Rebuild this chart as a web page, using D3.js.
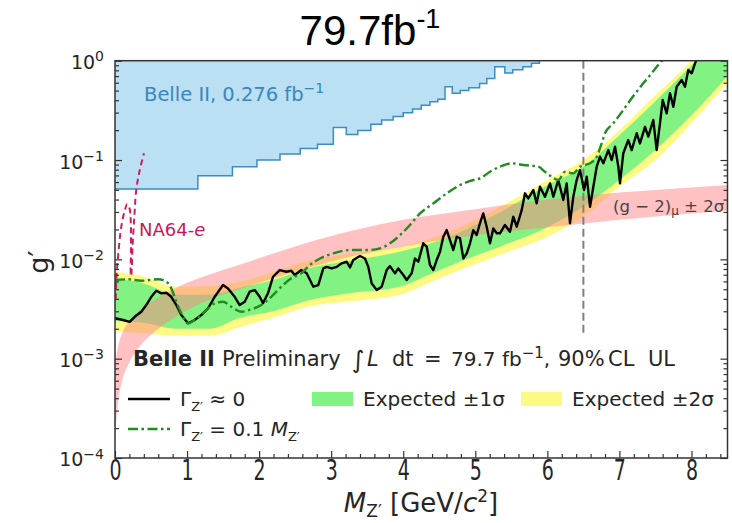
<!DOCTYPE html>
<html>
<head>
<meta charset="utf-8">
<script src="https://cdn.jsdelivr.net/npm/d3@7"></script>
<style>
  body { margin: 0; background: #fff; }
  text { font-family: "DejaVu Sans", sans-serif; fill: #262626; }
</style>
</head>
<body>
<svg id="chart" width="732" height="523"></svg>
<script>
//
// Data
//

// Belle II 0.276 fb^-1 excluded region (step edges)
var belleMass = [0, 1.15, 1.63, 1.97, 2.29, 2.57, 2.81, 3.03, 3.21, 3.37, 3.55, 3.70, 3.86, 4.00, 4.13, 4.25, 4.37, 4.48, 4.58, 4.68, 4.79, 4.91, 5.06, 5.16, 5.27, 5.41, 5.52, 5.66, 5.78, 5.89]
var belleG = [0.051, 0.0695, 0.0857, 0.100, 0.115, 0.131, 0.144, 0.212, 0.181, 0.198, 0.229, 0.253, 0.275, 0.300, 0.326, 0.355, 0.387, 0.410, 0.548, 0.470, 0.500, 0.535, 0.590, 0.660, 0.870, 0.750, 0.810, 0.870, 0.940, 1.0]

// expected limit bands
var expMass = [0, 0.4, 0.85, 1.3, 1.75, 2.2, 2.65, 3.3, 3.95, 4.45, 4.9, 5.35, 6.0, 6.5, 7.0, 7.5, 8.0, 8.5]
var exp2Lo = [0.0019, 0.0018, 0.0017, 0.0017, 0.0021, 0.0026, 0.0033, 0.0038, 0.0044, 0.0062, 0.0084, 0.0112, 0.0169, 0.027, 0.054, 0.10, 0.236, 0.6]
var exp1Lo = [0.0024, 0.0023, 0.0020, 0.0020, 0.0026, 0.0030, 0.0038, 0.0046, 0.0053, 0.0075, 0.0102, 0.0135, 0.021, 0.034, 0.063, 0.126, 0.28, 0.7]
var exp1Hi = [0.0064, 0.0057, 0.0044, 0.0044, 0.0052, 0.0062, 0.0080, 0.0098, 0.0119, 0.0150, 0.0205, 0.030, 0.056, 0.086, 0.178, 0.39, 0.9, 2.2]
var exp2Hi = [0.0075, 0.0067, 0.0053, 0.0054, 0.0060, 0.0075, 0.0095, 0.0115, 0.0134, 0.0169, 0.023, 0.034, 0.063, 0.10, 0.20, 0.45, 1.0, 2.6]

// (g-2)_mu +-2 sigma band
var gm2Mass = [0, 0.05, 0.1, 0.2, 0.35, 0.6, 0.9, 1.3, 1.8, 2.5, 3.3, 4.0, 5.0, 6.0, 7.0, 8.0, 8.5]
var gm2Lo = [0.00017, 0.0004, 0.0006, 0.00092, 0.00135, 0.0020, 0.0028, 0.0039, 0.0052, 0.0075, 0.0108, 0.0135, 0.0175, 0.021, 0.025, 0.029, 0.031]
var gm2Hi = [0.0009, 0.0014, 0.0018, 0.0024, 0.0031, 0.0041, 0.0054, 0.0070, 0.0092, 0.0135, 0.0195, 0.025, 0.032, 0.040, 0.047, 0.053, 0.056]

// observed limit, Gamma_Z' ~ 0
var obsMass = [0, 0.111, 0.204, 0.273, 0.365, 0.434, 0.504, 0.573, 0.643, 0.712, 0.781, 0.851, 0.920, 1.013, 1.106, 1.198, 1.291, 1.384, 1.499, 1.568, 1.661, 1.730, 1.800, 1.869, 1.939, 2.008, 2.054, 2.123, 2.193, 2.286, 2.377, 2.447, 2.494, 2.585, 2.660, 2.752, 2.821, 2.891, 2.938, 3.007, 3.077, 3.146, 3.215, 3.261, 3.307, 3.400, 3.469, 3.515, 3.562, 3.632, 3.701, 3.770, 3.816, 3.886, 3.931, 4.001, 4.048, 4.117, 4.163, 4.209, 4.278, 4.326, 4.371, 4.417, 4.464, 4.510, 4.556, 4.603, 4.649, 4.695, 4.742, 4.788, 4.834, 4.881, 4.927, 4.972, 5.019, 5.065, 5.111, 5.158, 5.204, 5.250, 5.297, 5.343, 5.412, 5.481, 5.527, 5.575, 5.644, 5.690, 5.735, 5.805, 5.852, 5.898, 5.967, 6.037, 6.083, 6.152, 6.221, 6.268, 6.314, 6.360, 6.407, 6.453, 6.509, 6.546, 6.592, 6.638, 6.685, 6.731, 6.777, 6.846, 6.893, 6.939, 6.985, 7.008, 7.054, 7.123, 7.170, 7.240, 7.285, 7.355, 7.401, 7.470, 7.517, 7.563, 7.601, 7.656, 7.702, 7.748, 7.795, 7.864, 7.910, 7.956, 8.003, 8.049, 8.10]
var obsG = [0.00255, 0.00245, 0.00235, 0.00264, 0.00297, 0.00347, 0.0042, 0.00483, 0.00455, 0.00461, 0.0042, 0.00347, 0.00275, 0.00227, 0.00245, 0.00275, 0.00321, 0.0042, 0.00551, 0.0051, 0.0042, 0.00347, 0.00374, 0.00472, 0.00491, 0.0042, 0.00361, 0.00455, 0.00668, 0.0078, 0.0075, 0.00768, 0.00695, 0.0078, 0.00723, 0.0053, 0.00551, 0.0081, 0.0084, 0.0081, 0.0084, 0.00912, 0.00946, 0.0083, 0.00984, 0.0108, 0.0102, 0.0084, 0.00573, 0.00491, 0.0053, 0.0078, 0.00855, 0.00723, 0.0081, 0.00695, 0.0062, 0.00723, 0.0102, 0.00946, 0.0145, 0.0134, 0.00877, 0.0078, 0.00984, 0.0119, 0.0169, 0.0197, 0.0156, 0.0124, 0.0169, 0.0163, 0.0102, 0.0115, 0.0145, 0.0197, 0.0176, 0.0231, 0.029, 0.0213, 0.0145, 0.0205, 0.0183, 0.0183, 0.0222, 0.019, 0.0269, 0.0213, 0.0313, 0.0462, 0.0411, 0.0499, 0.0366, 0.0538, 0.0427, 0.0582, 0.0427, 0.0629, 0.0396, 0.0582, 0.0231, 0.0427, 0.0629, 0.0793, 0.0499, 0.0679, 0.0339, 0.0538, 0.0857, 0.108, 0.0927, 0.126, 0.1, 0.136, 0.0857, 0.0582, 0.117, 0.159, 0.126, 0.186, 0.147, 0.216, 0.172, 0.253, 0.126, 0.234, 0.402, 0.295, 0.47, 0.344, 0.547, 0.64, 0.547, 0.806, 0.747, 0.94, 1.15]

// observed limit, Gamma_Z' = 0.1 M_Z'
var wideMass = [0, 0.180, 0.365, 0.597, 0.712, 0.781, 0.851, 0.920, 1.013, 1.106, 1.245, 1.384, 1.499, 1.614, 1.753, 1.891, 2.030, 2.169, 2.308, 2.447, 2.585, 2.706, 2.845, 3.029, 3.261, 3.493, 3.677, 3.816, 3.955, 4.094, 4.233, 4.417, 4.603, 4.788, 4.972, 5.065, 5.204, 5.343, 5.505, 5.666, 5.874, 5.967, 6.060, 6.152, 6.245, 6.360, 6.453, 6.592, 6.685, 6.754, 6.800, 6.915, 7.054, 7.170, 7.331, 7.448, 7.517, 7.587, 7.65]
var wideG = [0.0062, 0.0063, 0.00608, 0.0063, 0.00595, 0.0051, 0.00374, 0.00286, 0.00227, 0.00245, 0.00297, 0.00361, 0.00374, 0.00333, 0.00297, 0.00314, 0.00347, 0.0042, 0.0053, 0.00644, 0.00723, 0.00877, 0.0102, 0.0115, 0.0124, 0.0124, 0.0129, 0.0145, 0.0175, 0.0222, 0.029, 0.0366, 0.0462, 0.056, 0.0629, 0.0654, 0.0762, 0.0857, 0.0927, 0.0891, 0.0857, 0.0762, 0.0679, 0.0629, 0.0762, 0.0734, 0.0857, 0.0927, 0.108, 0.147, 0.186, 0.234, 0.319, 0.418, 0.592, 0.747, 0.87, 1.0, 1.15]

// NA64-e contour
var na64Mass = [0.010, 0.020, 0.042, 0.087, 0.135, 0.170, 0.200, 0.218, 0.222, 0.220, 0.226, 0.245, 0.270, 0.295, 0.343, 0.402]
var na64G = [0.0040, 0.0065, 0.0106, 0.0213, 0.0310, 0.0360, 0.0330, 0.0250, 0.0140, 0.0068, 0.0070, 0.0140, 0.0280, 0.0500, 0.0790, 0.1170]

// vertical marker
var cutMass = 6.5
var cutLow = 0.0018

// axis ticks
var xTicks = [0, 1, 2, 3, 4, 5, 6, 7, 8]
var yTicks = [1e-4, 1e-3, 1e-2, 1e-1, 1]

//
// Layout
//

var svg = d3.select('#chart')
var plotL = 115, plotR = 727.5, plotT = 60.7, plotB = 458

var x = d3.scaleLinear().domain([0, 8.5]).range([plotL, plotR])
var y = d3.scaleLog().domain([1e-4, 1]).range([plotB, plotT])

svg.append('defs').append('clipPath').attr('id', 'plotclip')
  .append('rect')
  .attr('x', plotL).attr('y', plotT)
  .attr('width', plotR - plotL).attr('height', plotB - plotT)

var plot = svg.append('g').attr('clip-path', 'url(#plotclip)')

function rows(ms, a, b) {
  return ms.map(function(m, i) { return { m: m, a: a[i], b: b ? b[i] : null } })
}

// Belle II 0.276 fb-1 region
var belle = rows(belleMass, belleG)
plot.append('path')
  .datum(belle)
  .attr('fill', '#bbdff3')
  .attr('d', d3.area().curve(d3.curveStepAfter)
    .x(function(d) { return x(d.m) })
    .y0(y(1) - 5)
    .y1(function(d) { return y(d.a) }))
plot.append('path')
  .datum(belle)
  .attr('fill', 'none')
  .attr('stroke', '#3b8cc4')
  .attr('stroke-width', 1.5)
  .attr('d', d3.line().curve(d3.curveStepAfter)
    .x(function(d) { return x(d.m) })
    .y(function(d) { return y(d.a) }))

function band(ms, lo, hi, color, opacity) {
  plot.append('path')
    .datum(rows(ms, lo, hi))
    .attr('fill', color)
    .attr('fill-opacity', opacity)
    .attr('d', d3.area().curve(d3.curveMonotoneX)
      .x(function(d) { return x(d.m) })
      .y0(function(d) { return y(d.a) })
      .y1(function(d) { return y(d.b) }))
}

band(expMass, exp2Lo, exp2Hi, '#fdfa84', 1)
band(expMass, exp1Lo, exp1Hi, '#82f282', 1)
band(gm2Mass, gm2Lo, gm2Hi, '#ff8484', 0.5)

// vertical dashed marker
plot.append('line')
  .attr('x1', x(cutMass)).attr('x2', x(cutMass))
  .attr('y1', y(1)).attr('y2', y(cutLow))
  .attr('stroke', '#808080')
  .attr('stroke-width', 2)
  .attr('stroke-dasharray', '8,4')

function curve(ms, gs, color, width, dash, c) {
  plot.append('path')
    .datum(rows(ms, gs))
    .attr('fill', 'none')
    .attr('stroke', color)
    .attr('stroke-width', width)
    .attr('stroke-dasharray', dash)
    .attr('stroke-linejoin', 'round')
    .attr('d', d3.line().curve(c)
      .x(function(d) { return x(d.m) })
      .y(function(d) { return y(d.a) }))
}

curve(obsMass, obsG, '#000', 2.4, null, d3.curveLinear)
curve(wideMass, wideG, '#228b22', 2.4, '10,3.5,2.5,3.5', d3.curveMonotoneX)
curve(na64Mass, na64G, '#d01c62', 2, '6,4', d3.curveCatmullRom)

//
// Axes
//

function styleAxis(g) {
  g.select('.domain').remove()
  g.selectAll('.tick line').attr('stroke', '#333').attr('stroke-width', 1.2)
}

var xMinor = d3.range(0, 8.5001, 0.2).filter(function(v) { return Math.abs(v - Math.round(v)) > 1e-6 })
var yMinor = []
yTicks.slice(0, -1).forEach(function(t) { d3.range(2, 10).forEach(function(k) { yMinor.push(t * k) }) })

svg.append('g').attr('transform', 'translate(0,' + plotB + ')')
  .call(d3.axisBottom(x).tickValues(xMinor).tickSize(-4).tickFormat(''))
  .call(styleAxis)

var gx = svg.append('g').attr('transform', 'translate(0,' + plotB + ')')
  .call(d3.axisBottom(x).tickValues(xTicks).tickSizeInner(-7).tickSizeOuter(0).tickPadding(2).tickFormat(d3.format('d')))
  .call(styleAxis)
// the x tick digits are drawn taller than wide in the source figure
gx.selectAll('.tick text')
  .attr('font-size', '19px')
  .attr('fill', '#262626')
  .attr('transform', 'scale(1,1.45)')

;[['left', d3.axisLeft], ['right', d3.axisRight]].forEach(function(p) {
  var pos = p[0] === 'left' ? plotL : plotR
  svg.append('g').attr('transform', 'translate(' + pos + ',0)')
    .call(p[1](y).tickValues(yMinor).tickSize(-4).tickFormat(''))
    .call(styleAxis)
  var g = svg.append('g').attr('transform', 'translate(' + pos + ',0)')
    .call(p[1](y).tickValues(yTicks).tickSizeInner(-7).tickSizeOuter(0).tickPadding(11).tickFormat(''))
    .call(styleAxis)
  if (p[0] === 'left') {
    g.selectAll('.tick text')
      .attr('font-size', '19px')
      .attr('dy', '0.42em')
      .each(function(d) {
        var t = d3.select(this)
        t.append('tspan').text('10')
        t.append('tspan').attr('dy', '-0.55em').attr('font-size', '14px')
          .text(d === 1 ? '0' : '\u2212' + Math.round(-Math.log10(d)))
      })
  }
})

// frame
svg.append('rect')
  .attr('x', plotL).attr('y', plotT)
  .attr('width', plotR - plotL).attr('height', plotB - plotT)
  .attr('fill', 'none').attr('stroke', '#333').attr('stroke-width', 1.5)

//
// Labels
//

svg.append('text').attr('x', 370).attr('y', 45)
  .attr('text-anchor', 'middle')
  .style('font-family', '"Liberation Sans", Arial, sans-serif')
  .attr('font-size', '42px').style('fill', '#000')
  .call(function(t) {
    t.append('tspan').text('79.7fb')
    t.append('tspan').attr('dy', '-17').attr('font-size', '27px').text('-1')
  })

svg.append('text')
  .attr('transform', 'translate(48,262) rotate(-90)')
  .attr('text-anchor', 'middle')
  .attr('font-size', '27px')
  .text('g\u2032')

svg.append('text').attr('x', 421).attr('y', 512)
  .attr('text-anchor', 'middle')
  .attr('font-size', '26px')
  .call(function(t) {
    t.append('tspan').attr('font-style', 'italic').text('M')
    t.append('tspan').attr('dy', 5).attr('font-size', '17px').text('Z\u2032')
    t.append('tspan').attr('dy', -5).text(' [GeV/')
    t.append('tspan').attr('font-style', 'italic').text('c')
    t.append('tspan').attr('dy', -10).attr('font-size', '17px').text('2')
    t.append('tspan').attr('dy', 10).text(']')
  })

// annotations
svg.append('text').attr('x', 144).attr('y', 101)
  .attr('font-size', '19.5px').style('fill', '#3a86bf')
  .call(function(t) {
    t.append('tspan').text('Belle II, 0.276 fb')
    t.append('tspan').attr('dy', -8).attr('font-size', '14px').text('\u22121')
  })

svg.append('text').attr('x', 139).attr('y', 236)
  .attr('font-size', '18px').style('fill', '#c8185a')
  .call(function(t) {
    t.append('tspan').text('NA64-')
    t.append('tspan').attr('font-style', 'italic').text('e')
  })

svg.append('text').attr('x', 613).attr('y', 212)
  .attr('font-size', '16.5px').style('fill', '#444')
  .call(function(t) {
    t.append('tspan').text('(g \u2212 2)')
    t.append('tspan').attr('dy', 3).attr('font-size', '12px').text('\u03bc')
    t.append('tspan').attr('dy', -3).text(' \u00b1 2\u03c3')
  })

// legend header, pieces placed as in the source
var head = svg.append('g').attr('font-size', '21px')
head.append('text').attr('x', 133).attr('y', 366).attr('font-weight', 'bold').text('Belle II')
head.append('text').attr('x', 222).attr('y', 366).text('Preliminary')
head.append('text').attr('x', 352).attr('y', 368).attr('font-size', '24px').text('\u222b')
head.append('text').attr('x', 367).attr('y', 366).attr('font-style', 'italic').text('L')
head.append('text').attr('x', 392).attr('y', 366).text('dt')
head.append('text').attr('x', 424).attr('y', 366).text('=')
head.append('text').attr('x', 451).attr('y', 366).attr('font-size', '20px')
  .call(function(t) {
    t.append('tspan').text('79.7 fb')
    t.append('tspan').attr('dy', -8).attr('font-size', '15px').text('\u22121')
    t.append('tspan').attr('dy', 8).text(',')
  })
head.append('text').attr('x', 558).attr('y', 366).text('90%')
head.append('text').attr('x', 608).attr('y', 366).text('CL')
head.append('text').attr('x', 648).attr('y', 366).text('UL')

// legend entries
var legend = svg.append('g')
legend.append('line').attr('x1', 128).attr('x2', 170).attr('y1', 399).attr('y2', 399)
  .attr('stroke', '#000').attr('stroke-width', 2.4)
legend.append('line').attr('x1', 128).attr('x2', 170).attr('y1', 429).attr('y2', 429)
  .attr('stroke', '#228b22').attr('stroke-width', 2.4).attr('stroke-dasharray', '10,3.5,2.5,3.5')
legend.append('rect').attr('x', 312).attr('y', 392).attr('width', 41).attr('height', 14).attr('fill', '#82f282')
legend.append('rect').attr('x', 521).attr('y', 392).attr('width', 41).attr('height', 14).attr('fill', '#fdfa84')

legend.append('text').attr('x', 180).attr('y', 406).attr('font-size', '20px')
  .call(function(t) {
    t.append('tspan').text('\u0393')
    t.append('tspan').attr('dy', 5).attr('font-size', '13px').text('Z\u2032')
    t.append('tspan').attr('dy', -5).text(' \u2248 0')
  })
legend.append('text').attr('x', 180).attr('y', 436).attr('font-size', '20px')
  .call(function(t) {
    t.append('tspan').text('\u0393')
    t.append('tspan').attr('dy', 5).attr('font-size', '13px').text('Z\u2032')
    t.append('tspan').attr('dy', -5).text(' = 0.1 ')
    t.append('tspan').attr('font-style', 'italic').text('M')
    t.append('tspan').attr('dy', 5).attr('font-size', '13px').text('Z\u2032')
  })
legend.append('text').attr('x', 363).attr('y', 406).attr('font-size', '20px').text('Expected \u00b11\u03c3')
legend.append('text').attr('x', 572).attr('y', 406).attr('font-size', '20px').text('Expected \u00b12\u03c3')
</script>
</body>
</html>
